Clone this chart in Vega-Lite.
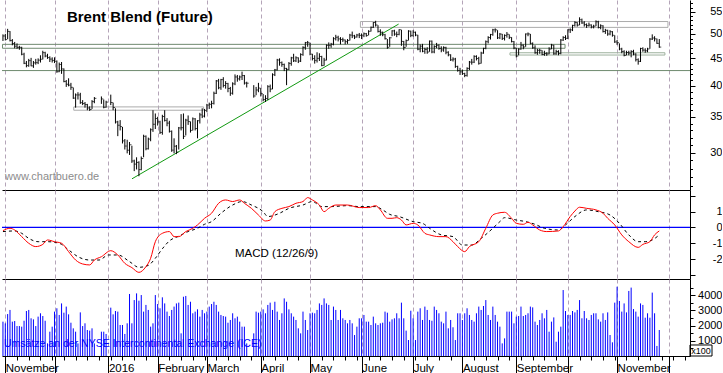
{
"$schema":"https://vega.github.io/schema/vega-lite/v6.json",
"padding":0,
"background":"white",
"spacing":0,
"bounds":"flush",
"config":{"view":{"stroke":null},"axis":{"labelFont":"Liberation Sans","titleFont":"Liberation Sans","title":null},"text":{"font":"Liberation Sans"}},
"resolve":{"scale":{"x":"independent","y":"independent"},"axis":{"x":"independent","y":"independent"}},
"datasets":{
"px":[
{"i":-1,"h":49.9,"l":48.5,"c":49.56,"v":2260},
{"i":0,"h":50.0,"l":48.6,"c":48.79,"v":2150},
{"i":1,"h":51.1,"l":48.9,"c":50.54,"v":2760},
{"i":2,"h":50.6,"l":48.4,"c":48.58,"v":3030},
{"i":3,"h":48.9,"l":47.6,"c":47.98,"v":2260},
{"i":4,"h":48.3,"l":47.0,"c":47.42,"v":2300},
{"i":5,"h":48.0,"l":46.9,"c":47.19,"v":1970},
{"i":6,"h":47.5,"l":46.7,"c":47.19,"v":1970},
{"i":7,"h":47.3,"l":45.6,"c":45.81,"v":1930},
{"i":8,"h":46.1,"l":43.9,"c":44.06,"v":2320},
{"i":9,"h":44.5,"l":43.3,"c":43.61,"v":2960},
{"i":10,"h":44.9,"l":43.4,"c":44.56,"v":3030},
{"i":11,"h":45.1,"l":43.5,"c":43.57,"v":2480},
{"i":12,"h":44.5,"l":43.2,"c":44.14,"v":2410},
{"i":13,"h":44.9,"l":43.8,"c":44.18,"v":1970},
{"i":14,"h":45.0,"l":43.9,"c":44.66,"v":2590},
{"i":15,"h":45.6,"l":44.2,"c":44.83,"v":2810},
{"i":16,"h":46.5,"l":44.8,"c":46.12,"v":2630},
{"i":17,"h":46.3,"l":45.2,"c":45.46,"v":2320},
{"i":18,"h":45.9,"l":44.9,"c":45.15,"v":830},
{"i":19,"h":45.4,"l":44.3,"c":44.86,"v":1600},
{"i":20,"h":45.2,"l":44.2,"c":44.61,"v":1930},
{"i":21,"h":45.2,"l":44.1,"c":44.44,"v":2920},
{"i":22,"h":44.6,"l":42.3,"c":42.49,"v":3140},
{"i":23,"h":44.2,"l":42.4,"c":43.84,"v":2700},
{"i":24,"h":44.3,"l":42.1,"c":43.00,"v":3460},
{"i":25,"h":43.1,"l":40.6,"c":40.73,"v":2850},
{"i":26,"h":41.0,"l":39.8,"c":40.26,"v":3250},
{"i":27,"h":41.3,"l":39.9,"c":40.11,"v":2740},
{"i":28,"h":40.5,"l":39.3,"c":39.73,"v":2190},
{"i":29,"h":39.7,"l":37.8,"c":37.93,"v":1820},
{"i":30,"h":38.7,"l":36.4,"c":38.45,"v":1600},
{"i":31,"h":38.9,"l":37.7,"c":38.45,"v":830},
{"i":32,"h":38.8,"l":37.0,"c":37.19,"v":2870},
{"i":33,"h":37.6,"l":36.8,"c":37.06,"v":1970},
{"i":34,"h":37.3,"l":36.4,"c":36.88,"v":2150},
{"i":35,"h":37.0,"l":36.0,"c":36.35,"v":1710},
{"i":36,"h":36.6,"l":35.9,"c":36.11,"v":1670},
{"i":37,"h":37.6,"l":36.2,"c":37.36,"v":1820},
{"i":38,"h":38.1,"l":37.1,"c":37.89,"v":830},
{"i":41,"h":38.2,"l":37.0,"c":37.79,"v":1600},
{"i":42,"h":37.7,"l":36.3,"c":36.46,"v":1600},
{"i":43,"h":37.5,"l":36.4,"c":37.28,"v":1450},
{"i":45,"h":38.5,"l":36.8,"c":37.22,"v":3180},
{"i":46,"h":37.2,"l":36.0,"c":36.42,"v":2740},
{"i":47,"h":36.3,"l":34.0,"c":34.23,"v":2960},
{"i":48,"h":34.4,"l":32.2,"c":33.75,"v":2920},
{"i":49,"h":34.5,"l":33.0,"c":33.55,"v":2040},
{"i":50,"h":33.5,"l":31.2,"c":31.55,"v":2040},
{"i":51,"h":31.8,"l":30.4,"c":30.86,"v":1450},
{"i":52,"h":31.7,"l":29.9,"c":30.31,"v":2150},
{"i":53,"h":31.4,"l":29.7,"c":31.03,"v":4080},
{"i":54,"h":30.9,"l":28.7,"c":28.94,"v":2150},
{"i":55,"h":29.1,"l":27.7,"c":28.55,"v":3680},
{"i":56,"h":29.4,"l":27.9,"c":28.76,"v":4120},
{"i":57,"h":28.9,"l":27.1,"c":27.88,"v":3640},
{"i":58,"h":29.5,"l":27.8,"c":29.25,"v":4010},
{"i":59,"h":32.4,"l":29.4,"c":32.18,"v":2920},
{"i":60,"h":32.3,"l":30.3,"c":30.50,"v":3360},
{"i":61,"h":32.0,"l":30.4,"c":31.80,"v":3030},
{"i":62,"h":33.3,"l":31.5,"c":33.10,"v":1930},
{"i":63,"h":36.0,"l":32.8,"c":33.89,"v":2150},
{"i":64,"h":35.5,"l":33.2,"c":34.74,"v":4010},
{"i":65,"h":35.0,"l":33.7,"c":34.24,"v":3420},
{"i":66,"h":34.4,"l":32.5,"c":32.72,"v":3140},
{"i":67,"h":35.3,"l":32.4,"c":35.04,"v":3860},
{"i":68,"h":36.0,"l":34.3,"c":34.46,"v":3460},
{"i":69,"h":34.8,"l":33.6,"c":34.06,"v":2920},
{"i":70,"h":34.4,"l":32.7,"c":32.88,"v":2630},
{"i":71,"h":33.0,"l":30.1,"c":30.32,"v":3030},
{"i":72,"h":31.9,"l":29.9,"c":30.84,"v":3250},
{"i":73,"h":31.0,"l":29.8,"c":30.06,"v":3460},
{"i":74,"h":33.5,"l":30.4,"c":33.36,"v":3510},
{"i":75,"h":35.4,"l":33.0,"c":33.39,"v":1490},
{"i":76,"h":35.5,"l":31.8,"c":32.18,"v":3900},
{"i":77,"h":34.7,"l":32.3,"c":34.50,"v":3950},
{"i":78,"h":35.2,"l":33.8,"c":34.28,"v":3360},
{"i":79,"h":34.3,"l":32.7,"c":33.01,"v":3570},
{"i":80,"h":34.9,"l":33.0,"c":34.69,"v":2810},
{"i":81,"h":34.8,"l":33.0,"c":33.27,"v":2920},
{"i":82,"h":34.5,"l":31.9,"c":34.41,"v":3070},
{"i":83,"h":35.6,"l":34.0,"c":35.29,"v":2590},
{"i":84,"h":36.3,"l":34.8,"c":35.10,"v":3030},
{"i":85,"h":36.2,"l":34.9,"c":35.97,"v":2810},
{"i":86,"h":37.0,"l":35.7,"c":36.81,"v":2920},
{"i":87,"h":37.2,"l":36.2,"c":36.93,"v":3250},
{"i":88,"h":37.5,"l":36.3,"c":37.07,"v":3420},
{"i":89,"h":39.0,"l":36.9,"c":38.72,"v":3570},
{"i":90,"h":41.0,"l":38.6,"c":40.84,"v":3360},
{"i":91,"h":41.2,"l":39.4,"c":39.65,"v":2920},
{"i":92,"h":41.2,"l":39.3,"c":41.07,"v":2700},
{"i":93,"h":41.5,"l":39.7,"c":40.05,"v":2630},
{"i":94,"h":40.8,"l":39.5,"c":40.39,"v":2590},
{"i":95,"h":40.5,"l":38.9,"c":39.53,"v":2190},
{"i":96,"h":39.8,"l":38.3,"c":38.74,"v":2370},
{"i":97,"h":40.6,"l":38.5,"c":40.33,"v":2810},
{"i":98,"h":42.0,"l":40.1,"c":41.54,"v":2480},
{"i":99,"h":41.9,"l":40.7,"c":41.20,"v":2590},
{"i":100,"h":41.8,"l":40.9,"c":41.54,"v":2260},
{"i":101,"h":42.5,"l":41.0,"c":41.79,"v":1930},
{"i":102,"h":41.9,"l":40.2,"c":40.47,"v":1930},
{"i":103,"h":40.7,"l":39.7,"c":40.44,"v":830},
{"i":106,"h":40.1,"l":38.0,"c":38.28,"v":1490},
{"i":107,"h":39.8,"l":38.4,"c":39.26,"v":2920},
{"i":108,"h":40.5,"l":38.9,"c":39.60,"v":2850},
{"i":109,"h":39.6,"l":38.2,"c":38.67,"v":2920},
{"i":110,"h":38.6,"l":37.4,"c":37.69,"v":3070},
{"i":111,"h":38.4,"l":37.3,"c":37.87,"v":2810},
{"i":112,"h":40.1,"l":37.6,"c":39.84,"v":3360},
{"i":113,"h":40.2,"l":38.9,"c":39.43,"v":3510},
{"i":114,"h":42.2,"l":39.4,"c":41.94,"v":3030},
{"i":115,"h":43.0,"l":41.7,"c":42.83,"v":3570},
{"i":116,"h":44.9,"l":42.7,"c":44.69,"v":2920},
{"i":117,"h":45.0,"l":43.6,"c":44.18,"v":2370},
{"i":118,"h":44.4,"l":43.4,"c":43.84,"v":2810},
{"i":119,"h":44.0,"l":42.6,"c":43.10,"v":3790},
{"i":120,"h":43.2,"l":40.1,"c":42.91,"v":3570},
{"i":121,"h":44.3,"l":42.8,"c":44.03,"v":3070},
{"i":122,"h":45.3,"l":43.6,"c":45.10,"v":2810},
{"i":123,"h":45.9,"l":44.3,"c":44.53,"v":2590},
{"i":124,"h":45.4,"l":44.3,"c":45.11,"v":2370},
{"i":125,"h":45.2,"l":44.1,"c":44.48,"v":1820},
{"i":126,"h":46.0,"l":44.3,"c":45.74,"v":1490},
{"i":127,"h":47.4,"l":45.5,"c":47.18,"v":2920},
{"i":128,"h":48.3,"l":46.7,"c":48.14,"v":2370},
{"i":129,"h":48.5,"l":47.3,"c":48.13,"v":1710},
{"i":130,"h":48.1,"l":45.6,"c":45.83,"v":2810},
{"i":131,"h":45.9,"l":44.6,"c":44.97,"v":2850},
{"i":132,"h":45.6,"l":44.0,"c":44.62,"v":2810},
{"i":133,"h":46.2,"l":44.2,"c":45.01,"v":3030},
{"i":134,"h":46.0,"l":44.5,"c":45.37,"v":3460},
{"i":135,"h":45.5,"l":43.5,"c":43.63,"v":3360},
{"i":136,"h":45.1,"l":43.6,"c":44.66,"v":3790},
{"i":137,"h":47.8,"l":44.6,"c":47.59,"v":3460},
{"i":138,"h":48.2,"l":46.9,"c":47.59,"v":3360},
{"i":139,"h":48.1,"l":47.1,"c":47.83,"v":2370},
{"i":140,"h":49.3,"l":47.6,"c":48.97,"v":3250},
{"i":141,"h":49.8,"l":48.6,"c":49.28,"v":3030},
{"i":142,"h":49.6,"l":48.4,"c":48.93,"v":2370},
{"i":143,"h":49.3,"l":47.8,"c":48.81,"v":3030},
{"i":144,"h":49.2,"l":48.3,"c":48.72,"v":2480},
{"i":145,"h":48.8,"l":47.8,"c":48.35,"v":2370},
{"i":146,"h":48.9,"l":47.9,"c":48.61,"v":2150},
{"i":147,"h":50.0,"l":48.6,"c":49.74,"v":2370},
{"i":148,"h":50.5,"l":49.1,"c":49.59,"v":2150},
{"i":149,"h":49.8,"l":48.9,"c":49.32,"v":1380},
{"i":150,"h":50.0,"l":49.2,"c":49.76,"v":1930},
{"i":151,"h":50.2,"l":49.1,"c":49.69,"v":2480},
{"i":152,"h":50.1,"l":48.9,"c":49.72,"v":2480},
{"i":153,"h":50.3,"l":49.3,"c":50.04,"v":2700},
{"i":154,"h":50.2,"l":49.4,"c":49.64,"v":2260},
{"i":155,"h":50.8,"l":49.7,"c":50.55,"v":2260},
{"i":156,"h":51.6,"l":50.5,"c":51.44,"v":2040},
{"i":157,"h":52.6,"l":51.3,"c":52.51,"v":2590},
{"i":158,"h":52.9,"l":51.6,"c":51.95,"v":2150},
{"i":159,"h":51.9,"l":50.3,"c":50.54,"v":2040},
{"i":160,"h":51.0,"l":49.6,"c":50.35,"v":2150},
{"i":161,"h":50.5,"l":49.5,"c":49.83,"v":2190},
{"i":162,"h":50.0,"l":48.8,"c":48.97,"v":2920},
{"i":163,"h":48.9,"l":46.9,"c":47.19,"v":2850},
{"i":164,"h":49.3,"l":47.3,"c":49.17,"v":2260},
{"i":165,"h":50.8,"l":49.5,"c":50.65,"v":2410},
{"i":166,"h":50.9,"l":49.6,"c":49.96,"v":2480},
{"i":167,"h":50.5,"l":49.3,"c":49.88,"v":2810},
{"i":168,"h":51.0,"l":49.7,"c":50.91,"v":2480},
{"i":169,"h":50.9,"l":47.5,"c":48.41,"v":3510},
{"i":170,"h":48.5,"l":46.6,"c":47.16,"v":2480},
{"i":171,"h":48.8,"l":47.3,"c":48.58,"v":1670},
{"i":172,"h":50.8,"l":48.6,"c":50.61,"v":1050},
{"i":173,"h":50.7,"l":49.3,"c":49.68,"v":2980},
{"i":174,"h":50.8,"l":49.4,"c":50.35,"v":2480},
{"i":175,"h":50.5,"l":49.5,"c":49.75,"v":1050},
{"i":176,"h":49.8,"l":46.6,"c":46.80,"v":2920},
{"i":177,"h":47.8,"l":46.2,"c":47.43,"v":3140},
{"i":178,"h":47.9,"l":46.2,"c":46.40,"v":2370},
{"i":179,"h":47.1,"l":45.9,"c":46.76,"v":3250},
{"i":180,"h":47.2,"l":45.9,"c":46.25,"v":3030},
{"i":181,"h":48.6,"l":46.3,"c":48.47,"v":2370},
{"i":182,"h":48.6,"l":46.0,"c":46.26,"v":2320},
{"i":183,"h":47.6,"l":46.0,"c":47.37,"v":3250},
{"i":184,"h":48.1,"l":47.0,"c":47.61,"v":3030},
{"i":185,"h":47.8,"l":46.7,"c":46.96,"v":2810},
{"i":186,"h":47.4,"l":46.2,"c":46.66,"v":2260},
{"i":187,"h":47.4,"l":46.3,"c":47.17,"v":2150},
{"i":188,"h":47.3,"l":45.8,"c":46.20,"v":2920},
{"i":189,"h":46.4,"l":45.4,"c":45.69,"v":1820},
{"i":190,"h":45.8,"l":44.5,"c":44.72,"v":2370},
{"i":191,"h":45.2,"l":44.4,"c":44.87,"v":1890},
{"i":192,"h":45.1,"l":43.2,"c":43.47,"v":1050},
{"i":193,"h":43.6,"l":42.5,"c":42.70,"v":2810},
{"i":194,"h":43.2,"l":41.9,"c":42.46,"v":2810},
{"i":195,"h":42.9,"l":41.9,"c":42.14,"v":2370},
{"i":196,"h":42.3,"l":41.5,"c":41.80,"v":2810},
{"i":197,"h":43.3,"l":41.6,"c":43.10,"v":3140},
{"i":198,"h":44.5,"l":42.8,"c":44.29,"v":2700},
{"i":199,"h":44.9,"l":43.8,"c":44.27,"v":2370},
{"i":200,"h":45.6,"l":44.1,"c":45.39,"v":2260},
{"i":201,"h":45.6,"l":44.6,"c":44.98,"v":2810},
{"i":202,"h":45.3,"l":43.8,"c":44.05,"v":3250},
{"i":203,"h":46.3,"l":44.0,"c":46.04,"v":3030},
{"i":204,"h":47.1,"l":45.9,"c":46.97,"v":3290},
{"i":205,"h":48.6,"l":46.8,"c":48.35,"v":3680},
{"i":206,"h":49.5,"l":48.0,"c":49.23,"v":2700},
{"i":207,"h":50.0,"l":48.8,"c":49.85,"v":2370},
{"i":208,"h":51.1,"l":49.6,"c":50.89,"v":3250},
{"i":209,"h":51.2,"l":50.3,"c":50.88,"v":2700},
{"i":210,"h":50.8,"l":48.9,"c":49.16,"v":2260},
{"i":211,"h":50.2,"l":48.9,"c":49.96,"v":1930},
{"i":212,"h":50.0,"l":48.7,"c":49.05,"v":830},
{"i":213,"h":49.9,"l":48.6,"c":49.67,"v":1160},
{"i":214,"h":50.4,"l":49.2,"c":49.92,"v":2920},
{"i":215,"h":49.9,"l":48.9,"c":49.26,"v":2920},
{"i":216,"h":49.3,"l":48.2,"c":48.37,"v":2920},
{"i":217,"h":48.5,"l":46.8,"c":47.04,"v":2150},
{"i":218,"h":47.1,"l":45.2,"c":45.45,"v":2590},
{"i":219,"h":47.0,"l":45.6,"c":46.83,"v":2630},
{"i":220,"h":48.3,"l":46.7,"c":47.63,"v":3250},
{"i":221,"h":47.8,"l":46.8,"c":47.26,"v":2630},
{"i":222,"h":50.1,"l":47.3,"c":49.98,"v":2700},
{"i":223,"h":50.3,"l":49.5,"c":49.99,"v":2810},
{"i":224,"h":50.0,"l":47.8,"c":48.01,"v":3250},
{"i":225,"h":48.2,"l":46.9,"c":47.10,"v":3200},
{"i":226,"h":47.6,"l":45.9,"c":46.10,"v":2260},
{"i":227,"h":46.9,"l":45.7,"c":46.59,"v":2040},
{"i":228,"h":46.9,"l":45.9,"c":46.59,"v":2370},
{"i":229,"h":46.6,"l":45.6,"c":45.77,"v":2810},
{"i":230,"h":46.5,"l":45.5,"c":45.95,"v":2480},
{"i":231,"h":46.2,"l":45.5,"c":45.88,"v":3030},
{"i":232,"h":47.2,"l":45.8,"c":46.83,"v":1600},
{"i":233,"h":47.9,"l":46.8,"c":47.65,"v":2260},
{"i":234,"h":47.7,"l":45.7,"c":45.89,"v":2540},
{"i":235,"h":46.7,"l":45.7,"c":46.35,"v":940},
{"i":236,"h":46.6,"l":45.6,"c":45.97,"v":1600},
{"i":237,"h":48.9,"l":45.8,"c":48.69,"v":1930},
{"i":238,"h":49.5,"l":48.5,"c":49.24,"v":4340},
{"i":239,"h":49.7,"l":48.7,"c":49.06,"v":2960},
{"i":240,"h":51.0,"l":48.9,"c":50.89,"v":2700},
{"i":241,"h":51.2,"l":50.2,"c":50.87,"v":2700},
{"i":242,"h":52.0,"l":50.6,"c":51.86,"v":2960},
{"i":243,"h":52.8,"l":51.6,"c":52.51,"v":2870},
{"i":244,"h":52.6,"l":51.6,"c":51.93,"v":3030},
{"i":245,"h":53.7,"l":51.9,"c":53.14,"v":3680},
{"i":246,"h":53.4,"l":52.2,"c":52.41,"v":2480},
{"i":247,"h":52.8,"l":51.6,"c":52.03,"v":2960},
{"i":248,"h":52.3,"l":51.3,"c":51.81,"v":2480},
{"i":249,"h":52.5,"l":51.6,"c":51.95,"v":2370},
{"i":250,"h":52.1,"l":51.2,"c":51.52,"v":2700},
{"i":251,"h":52.0,"l":51.2,"c":51.68,"v":2810},
{"i":252,"h":53.0,"l":51.7,"c":52.67,"v":2810},
{"i":253,"h":52.9,"l":51.2,"c":51.38,"v":2410},
{"i":254,"h":52.1,"l":51.0,"c":51.78,"v":2260},
{"i":255,"h":51.9,"l":50.3,"c":50.52,"v":2810},
{"i":256,"h":51.1,"l":50.0,"c":50.79,"v":2370},
{"i":257,"h":50.9,"l":49.6,"c":49.98,"v":2870},
{"i":258,"h":50.8,"l":49.7,"c":50.47,"v":1380},
{"i":259,"h":50.6,"l":49.4,"c":49.71,"v":900},
{"i":260,"h":49.7,"l":48.1,"c":48.30,"v":3510},
{"i":261,"h":48.7,"l":47.7,"c":48.14,"v":4560},
{"i":262,"h":48.0,"l":46.6,"c":46.86,"v":3620},
{"i":263,"h":47.1,"l":46.0,"c":46.35,"v":2920},
{"i":264,"h":46.6,"l":45.4,"c":45.58,"v":3460},
{"i":265,"h":46.5,"l":45.6,"c":46.15,"v":2870},
{"i":266,"h":46.5,"l":45.6,"c":46.04,"v":4280},
{"i":267,"h":46.6,"l":45.2,"c":46.36,"v":4500},
{"i":268,"h":46.7,"l":45.6,"c":45.84,"v":3090},
{"i":269,"h":46.0,"l":44.4,"c":44.75,"v":2920},
{"i":270,"h":45.0,"l":43.8,"c":44.43,"v":2590},
{"i":271,"h":47.1,"l":44.3,"c":46.95,"v":3460},
{"i":272,"h":47.2,"l":46.3,"c":46.63,"v":3360},
{"i":273,"h":47.0,"l":46.1,"c":46.49,"v":2520},
{"i":274,"h":47.1,"l":46.2,"c":46.86,"v":2810},
{"i":275,"h":49.1,"l":46.9,"c":48.90,"v":2520},
{"i":276,"h":49.9,"l":48.7,"c":49.12,"v":4170},
{"i":277,"h":49.5,"l":48.4,"c":48.95,"v":2810},
{"i":278,"h":49.0,"l":47.9,"c":48.00,"v":660},
{"i":279,"h":48.9,"l":47.1,"c":47.24,"v":1710}
],
"macd":[
{"i":-1,"m":-0.2},{"i":2,"m":-0.05},{"i":4,"m":-0.16},{"i":7,"m":-0.58},{"i":10,"m":-1.0},{"i":13,"m":-1.21},{"i":16,"m":-1.07},{"i":18,"m":-0.79},{"i":21,"m":-0.9},{"i":24,"m":-1.0},{"i":27,"m":-1.53},{"i":30,"m":-2.06},{"i":33,"m":-2.31},{"i":36,"m":-2.37},{"i":38,"m":-2.06},{"i":41,"m":-1.85},{"i":45,"m":-1.47},{"i":48,"m":-1.74},{"i":51,"m":-2.27},{"i":54,"m":-2.54},{"i":57,"m":-2.84},{"i":60,"m":-2.48},{"i":62,"m":-1.95},{"i":64,"m":-0.9},{"i":67,"m":-0.37},{"i":70,"m":-0.26},{"i":72,"m":-0.58},{"i":74,"m":-0.58},{"i":77,"m":-0.26},{"i":80,"m":-0.05},{"i":82,"m":0.16},{"i":85,"m":0.58},{"i":88,"m":0.9},{"i":91,"m":1.53},{"i":94,"m":1.74},{"i":97,"m":1.64},{"i":100,"m":1.74},{"i":102,"m":1.53},{"i":105,"m":1.21},{"i":108,"m":0.79},{"i":111,"m":0.41},{"i":113,"m":0.47},{"i":115,"m":1.0},{"i":118,"m":1.21},{"i":121,"m":1.32},{"i":124,"m":1.53},{"i":127,"m":1.64},{"i":129,"m":1.89},{"i":131,"m":1.74},{"i":134,"m":1.42},{"i":136,"m":1.0},{"i":138,"m":1.21},{"i":141,"m":1.42},{"i":146,"m":1.42},{"i":151,"m":1.26},{"i":155,"m":1.26},{"i":158,"m":1.38},{"i":160,"m":1.11},{"i":163,"m":0.58},{"i":165,"m":0.58},{"i":167,"m":0.62},{"i":169,"m":0.47},{"i":171,"m":0.16},{"i":174,"m":0.26},{"i":176,"m":0.16},{"i":179,"m":-0.37},{"i":181,"m":-0.47},{"i":185,"m":-0.58},{"i":188,"m":-0.58},{"i":191,"m":-0.9},{"i":193,"m":-1.21},{"i":196,"m":-1.53},{"i":198,"m":-1.21},{"i":202,"m":-0.9},{"i":205,"m":-0.05},{"i":208,"m":0.79},{"i":210,"m":0.9},{"i":213,"m":0.96},{"i":216,"m":0.58},{"i":218,"m":0.26},{"i":221,"m":0.2},{"i":223,"m":0.33},{"i":225,"m":0.16},{"i":228,"m":-0.16},{"i":231,"m":-0.26},{"i":236,"m":-0.22},{"i":238,"m":0.05},{"i":241,"m":0.69},{"i":243,"m":1.04},{"i":245,"m":1.28},{"i":248,"m":1.21},{"i":252,"m":1.11},{"i":255,"m":0.9},{"i":257,"m":0.58},{"i":260,"m":0.16},{"i":263,"m":-0.47},{"i":266,"m":-0.9},{"i":270,"m":-1.26},{"i":272,"m":-1.07},{"i":275,"m":-0.9},{"i":277,"m":-0.47},{"i":279,"m":-0.22}
],
"sig":[
{"i":-1,"s":-0.26},{"i":4,"s":-0.22},{"i":7,"s":-0.37},{"i":10,"s":-0.69},{"i":14,"s":-0.9},{"i":18,"s":-0.9},{"i":23,"s":-1.0},{"i":27,"s":-1.42},{"i":31,"s":-1.85},{"i":36,"s":-2.06},{"i":40,"s":-2.06},{"i":44,"s":-1.74},{"i":48,"s":-1.74},{"i":53,"s":-2.16},{"i":57,"s":-2.52},{"i":61,"s":-2.4},{"i":64,"s":-1.95},{"i":67,"s":-1.35},{"i":70,"s":-0.85},{"i":74,"s":-0.55},{"i":78,"s":-0.26},{"i":82,"s":-0.05},{"i":85,"s":0.2},{"i":88,"s":0.37},{"i":92,"s":0.9},{"i":97,"s":1.42},{"i":101,"s":1.64},{"i":105,"s":1.42},{"i":110,"s":1.0},{"i":112,"s":0.69},{"i":117,"s":0.9},{"i":121,"s":1.21},{"i":127,"s":1.42},{"i":131,"s":1.64},{"i":135,"s":1.32},{"i":139,"s":1.32},{"i":146,"s":1.38},{"i":151,"s":1.32},{"i":158,"s":1.32},{"i":161,"s":1.11},{"i":164,"s":0.83},{"i":168,"s":0.69},{"i":174,"s":0.37},{"i":178,"s":0.26},{"i":181,"s":-0.05},{"i":186,"s":-0.47},{"i":191,"s":-0.58},{"i":195,"s":-1.11},{"i":199,"s":-1.11},{"i":203,"s":-0.69},{"i":208,"s":-0.05},{"i":211,"s":0.37},{"i":213,"s":0.62},{"i":218,"s":0.47},{"i":222,"s":0.37},{"i":226,"s":0.2},{"i":230,"s":-0.05},{"i":236,"s":-0.16},{"i":239,"s":0.16},{"i":243,"s":0.69},{"i":248,"s":1.11},{"i":253,"s":1.0},{"i":258,"s":0.79},{"i":262,"s":0.26},{"i":266,"s":-0.47},{"i":270,"s":-0.9},{"i":273,"s":-0.9},{"i":276,"s":-0.79},{"i":279,"s":-0.47}
],
"zones":[
{"a":-1.2,"b":238.8,"lo":47.0,"hi":47.8,"k":"g"},
{"a":29.2,"b":84.6,"lo":36.0,"hi":36.52,"k":"l"},
{"a":151.5,"b":282.7,"lo":51.42,"hi":52.73,"k":"l"},
{"a":215.3,"b":281.4,"lo":45.65,"hi":46.1,"k":"m"}
],
"trend":[{"i":54.05,"p":26.8},{"i":167.8,"p":52.15}]
},
"vconcat":[
{
"width":688,"height":190,
"resolve":{"axis":{"x":"independent","y":"independent"}},
"layer":[
{"data":{"values":[{}]},"mark":{"type":"rule","color":"#6e8a6e","strokeWidth":1},
 "encoding":{"y":{"datum":42.7,"type":"quantitative","scale":{"type":"log","domain":[25.54,57.85],"nice":false,"zero":false},"axis":null}}},
{"data":{"name":"zones"},"mark":{"type":"rect","filled":false,"strokeWidth":1},
 "encoding":{"x":{"field":"a","type":"quantitative","scale":{"domain":[-1.408,292.11],"nice":false,"zero":false},"axis":null},"x2":{"field":"b"},
 "y":{"field":"lo","type":"quantitative","axis":null},"y2":{"field":"hi"},
 "color":{"field":"k","type":"nominal","scale":{"domain":["g","l","m"],"range":["#708a70","#ababab","#9db09d"]},"legend":null}}},
{"data":{"name":"trend"},"mark":{"type":"line","color":"#119911","strokeWidth":1},
 "encoding":{"x":{"field":"i","type":"quantitative","axis":null},"y":{"field":"p","type":"quantitative","axis":null}}},
{"data":{"name":"px"},"mark":{"type":"rule","color":"black","strokeWidth":1},
 "encoding":{
  "x":{"field":"i","type":"quantitative","scale":{"domain":[-1.408,292.11],"nice":false,"zero":false},
   "axis":{"orient":"bottom","values":[0,21,44,65,86,109,130,152,174,195,218,240,261,283],"grid":true,"gridColor":"#b4a4b8","gridDash":[4,3],"ticks":false,"labels":false,"domain":true,"domainColor":"black","title":null}},
  "y":{"field":"l","type":"quantitative","scale":{"type":"log","domain":[25.54,57.85],"nice":false,"zero":false},
   "axis":{"orient":"right","values":[30,35,40,45,50,55],"tickSize":5,"tickColor":"black","domainColor":"black","grid":false,"labelExpr":"''+datum.value","labelAlign":"right","labelBaseline":"middle","labelPadding":27,"labelFontSize":11,"labelColor":"black","labelOverlap":false,"labelFlush":false,"title":null}},
  "y2":{"field":"h"}}},
{"data":{"name":"px"},"mark":{"type":"tick","orient":"horizontal","color":"black","size":2,"thickness":1,"xOffset":1},
 "encoding":{"x":{"field":"i","type":"quantitative","axis":null},
  "y":{"field":"c","type":"quantitative","axis":{"orient":"right","values":[26,27,28,29,31,32,33,34,36,37,38,39,41,42,43,44,46,47,48,49,51,52,53,54,56,57],"tickSize":2.5,"tickColor":"black","labels":false,"domain":false,"grid":false,"title":null}}}},
{"data":{"values":[{}]},"mark":{"type":"text","text":"Brent Blend (Future)","align":"left","baseline":"alphabetic","font":"Liberation Sans","fontSize":15,"fontWeight":"bold","color":"black"},
 "encoding":{"x":{"datum":26.3,"type":"quantitative","axis":null},"y":{"datum":52.68,"type":"quantitative","axis":null}}},
{"data":{"values":[{}]},"mark":{"type":"text","text":"www.chartbuero.de","align":"left","baseline":"alphabetic","font":"Liberation Sans","fontSize":11,"color":"#8c8c8c"},
 "encoding":{"x":{"datum":-0.13,"type":"quantitative","axis":null},"y":{"datum":26.68,"type":"quantitative","axis":null}}}
]
},
{
"width":688,"height":89,
"resolve":{"axis":{"x":"independent","y":"independent"}},
"layer":[
{"data":{"values":[{}]},"mark":{"type":"rule","color":"#0000ff","strokeWidth":1.2},
 "encoding":{"y":{"datum":0,"type":"quantitative","scale":{"domain":[-3.26,2.37],"nice":false,"zero":false},"axis":null}}},
{"data":{"name":"sig"},"mark":{"type":"line","color":"black","strokeWidth":1,"strokeDash":[3,3],"interpolate":"monotone"},
 "encoding":{"x":{"field":"i","type":"quantitative","scale":{"domain":[-1.408,292.11],"nice":false,"zero":false},"axis":null},"y":{"field":"s","type":"quantitative","axis":null}}},
{"data":{"name":"macd"},"mark":{"type":"line","color":"#ff0000","strokeWidth":1,"interpolate":"monotone"},
 "encoding":{
  "x":{"field":"i","type":"quantitative","scale":{"domain":[-1.408,292.11],"nice":false,"zero":false},
   "axis":{"orient":"bottom","values":[0,21,44,65,86,109,130,152,174,195,218,240,261,283],"grid":true,"gridColor":"#b4a4b8","gridDash":[4,3],"ticks":false,"labels":false,"domain":true,"domainColor":"black","title":null}},
  "y":{"field":"m","type":"quantitative","scale":{"domain":[-3.26,2.37],"nice":false,"zero":false},
   "axis":{"orient":"right","values":[2,1,0,-1,-2,-3],"tickSize":5,"tickColor":"black","domainColor":"black","grid":false,"labelExpr":"datum.value > 1 || datum.value < -2 ? '' : (datum.value < 0 ? '-' + abs(datum.value) : '' + datum.value)","labelAlign":"right","labelBaseline":"middle","labelPadding":27,"labelFontSize":11,"labelColor":"black","labelOverlap":false,"labelFlush":false,"title":null}}}},
{"data":{"values":[{}]},"mark":{"type":"text","text":"MACD (12/26/9)","align":"left","baseline":"alphabetic","font":"Liberation Sans","fontSize":11.5,"color":"black"},
 "encoding":{"x":{"datum":98.0,"type":"quantitative","axis":null},"y":{"datum":-1.848,"type":"quantitative","axis":null}}}
]
},
{
"width":688,"height":77,
"resolve":{"axis":{"x":"independent","y":"independent"}},
"layer":[
{"data":{"name":"px"},"mark":{"type":"rule","color":"#0000ff","strokeWidth":1},
 "encoding":{
  "x":{"field":"i","type":"quantitative","scale":{"domain":[-1.408,292.11],"nice":false,"zero":false},
   "axis":{"orient":"bottom","values":[0,21,44,65,86,109,130,152,174,195,218,240,261,283],"grid":true,"gridColor":"#b4a4b8","gridDash":[4,3],"tickSize":17,"tickColor":"black","domain":true,"domainColor":"black",
    "labelExpr":"datum.value == 0 ? 'November' : datum.value == 44 ? '2016' : datum.value == 65 ? 'February' : datum.value == 86 ? 'March' : datum.value == 109 ? 'April' : datum.value == 130 ? 'May' : datum.value == 152 ? 'June' : datum.value == 174 ? 'July' : datum.value == 195 ? 'August' : datum.value == 218 ? 'September' : datum.value == 261 ? 'November' : ''",
    "labelAlign":"left","labelBaseline":"alphabetic","labelPadding":-1.5,"labelDx":2,"labelFontSize":11.5,"labelColor":"black","labelOverlap":false,"labelFlush":false,"labelBound":false,"title":null}},
  "y":{"field":"v","type":"quantitative","scale":{"domain":[0,5066],"nice":false,"zero":false},
   "axis":{"orient":"right","values":[1000,2000,3000,4000],"tickSize":5,"tickColor":"black","domainColor":"black","grid":false,"labelExpr":"''+datum.value","labelAlign":"right","labelBaseline":"middle","labelPadding":27,"labelFontSize":11,"labelColor":"black","labelOverlap":false,"labelFlush":false,"title":null}},
  "y2":{"datum":0}}},
{"data":{"name":"px"},"mark":{"type":"rule","color":"#0000ff","strokeWidth":1,"opacity":0},
 "encoding":{
  "x":{"field":"i","type":"quantitative","axis":{"orient":"bottom","values":[0,5,10,15,20,25,30,35,40,45,50,55,60,65,70,75,80,85,90,95,100,105,110,115,120,125,130,135,140,145,150,155,160,165,170,175,180,185,190,195,200,205,210,215,220,225,230,235,240,245,250,255,260,265,270,275,280,285,290],"tickSize":4,"tickColor":"black","labels":false,"domain":false,"grid":false,"title":null}},
  "y":{"field":"v","type":"quantitative","axis":{"orient":"right","values":[500,1500,2500,3500,4500],"tickSize":3,"tickColor":"black","labels":false,"domain":false,"grid":false,"title":null}},
  "y2":{"datum":0}}},
{"data":{"values":[{}]},"mark":{"type":"text","text":"Umsätze an der NYSE  Intercontinental Exchange (ICE)","align":"left","baseline":"alphabetic","font":"Liberation Sans","fontSize":10.5,"color":"#0000ff"},
 "encoding":{"x":{"datum":-0.55,"type":"quantitative","axis":null},"y":{"datum":572,"type":"quantitative","axis":null}}},
{"data":{"values":[{}]},"mark":{"type":"rect","filled":false,"color":"black","strokeWidth":1},
 "encoding":{"x":{"datum":292.1,"type":"quantitative","axis":null},"x2":{"datum":301.5},"y":{"datum":724,"type":"quantitative","axis":null},"y2":{"datum":0}}},
{"data":{"values":[{}]},"mark":{"type":"text","text":"x100","align":"center","baseline":"alphabetic","font":"Liberation Sans","fontSize":9,"color":"black"},
 "encoding":{"x":{"datum":296.8,"type":"quantitative","axis":null},"y":{"datum":130,"type":"quantitative","axis":null}}}
]
}
]
}
